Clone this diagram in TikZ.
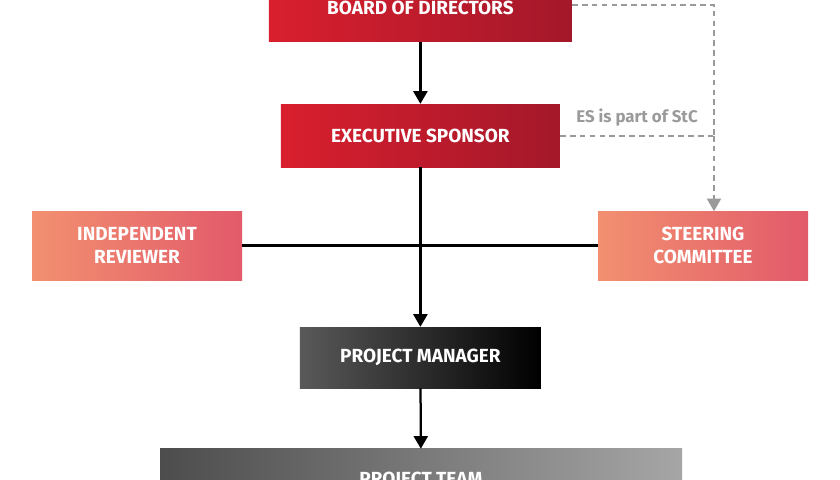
\documentclass[tikz,border=0pt]{standalone}
\usepackage{fontspec}
\setmainfont{Fira Sans}
\usetikzlibrary{arrows.meta,positioning}
\definecolor{redL}{HTML}{D91F2E}
\definecolor{redR}{HTML}{A3182A}
\definecolor{salL}{HTML}{F29070}
\definecolor{salR}{HTML}{E25A6A}
\definecolor{dashgray}{HTML}{9A9A9A}
\begin{document}
\begin{tikzpicture}[
    every node/.style={align=center, font=\fontsize{13.5}{16}\selectfont\bfseries, text=white},
    red box/.style={left color=redL, right color=redR, draw=none},
    side box/.style={left color=salL, right color=salR, draw=none, minimum width=5.25cm, minimum height=1.725cm},
    solid arrow/.style={draw, line width=1.6pt, -{Triangle[length=9pt,width=10pt]}},
    dashed line/.style={draw=dashgray, line width=1.4pt, dash pattern=on 4pt off 3pt},
    ]
\useasboundingbox (0,0) rectangle (21,12);
\begin{scope}
\clip (0,0) rectangle (21,12);
\node[red box, minimum width=7.575cm, minimum height=1.7cm] (board) at (10.51,11.8) {BOARD OF DIRECTORS};
\node[red box, minimum width=6.975cm, minimum height=1.575cm] (sponsor) at (10.51,8.61) {EXECUTIVE SPONSOR};
\node[side box] (reviewer) at (3.425,5.86) {INDEPENDENT\\REVIEWER};
\node[side box] (steering) at (17.575,5.86) {STEERING\\COMMITTEE};
\node[left color=black!65, right color=black, minimum width=6.025cm, minimum height=1.525cm] (manager) at (10.51,3.06) {PROJECT MANAGER};
\node[left color=black!70, right color=black!35, minimum width=13.05cm, minimum height=1.55cm] (team) at (10.525,0.0) {PROJECT TEAM};
\end{scope}
\coordinate (corner) at (17.85,11.875);
\coordinate (join) at (17.85,8.6);
\coordinate (stctop) at (17.85,6.72);
\draw[solid arrow] (board) -- (sponsor);
\draw[solid arrow] (sponsor) -- (manager);
\draw[line width=1.6pt] (reviewer) -- (steering);
\draw[solid arrow] (manager) -- (team);
\draw[dashed line] (board.east |- corner) -- (corner) -- (join);
\draw[dashed line, -{Triangle[length=9pt,width=10pt]}] (join) -- (stctop);
\draw[dashed line] (sponsor.east |- join) -- (join);
\node[text=dashgray, font=\fontsize{12}{14}\selectfont\bfseries] (note) at (15.925,9.05) {ES is part of StC};
\end{tikzpicture}
\end{document}
